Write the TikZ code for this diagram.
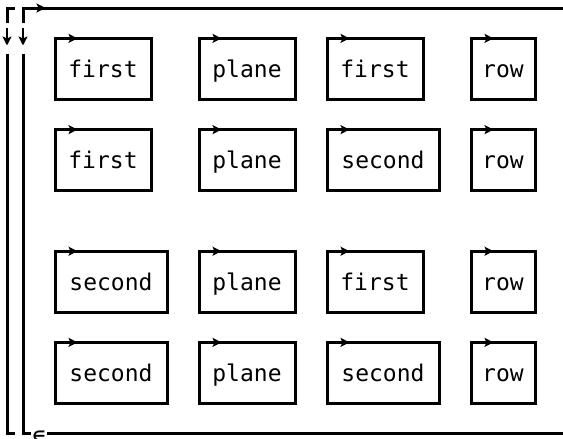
\documentclass[tikz,border=0pt]{standalone}
\usepackage{fontspec}
\newfontfamily\aplfont{DejaVu Sans Mono}
\usetikzlibrary{arrows.meta}
\newlength\cw \setlength\cw{16pt}
\def\gridtext#1{\gridloop#1\relax}
\def\gridloop#1{\ifx#1\relax\else\makebox[\cw][c]{#1}\expandafter\gridloop\fi}
\tikzset{
  frame/.style={line width=3pt, line cap=butt},
  word/.style={draw, line width=3pt, rectangle, inner sep=0pt, outer sep=0pt,
    minimum height=60.8pt, text height=17.2pt, text depth=0pt,
    font=\aplfont\fontsize{23pt}{23pt}\selectfont},
  tip/.style={-{Stealth[length=9pt,width=9pt,inset=2pt]}, line width=2.6pt}
}
\begin{document}
\begin{tikzpicture}[x=1pt,y=1pt]
\useasboundingbox (0,0) rectangle (563,-439);
% outer frame
\draw[frame] (7,-23.2) -- (7,-8) -- (15,-8);
\draw[frame] (23,-23.2) -- (23,-8) -- (563,-8);
\draw[tip] (23,-8) -- (45.5,-8);
\draw[tip] (7,-28) -- (7,-45.5);
\draw[tip] (23,-28) -- (23,-45.5);
\draw[frame] (7,-53.6) -- (7,-433.6) -- (15,-433.6);
\draw[frame] (23,-53.6) -- (23,-433.6) -- (31,-433.6);
\draw[frame] (47,-433.6) -- (563,-433.6);
\node[font=\aplfont\fontsize{23pt}{23pt}\selectfont, anchor=base, inner sep=0pt] (eps) at (39,-443) {∊};
% boxes
\foreach \nm/\w/\cx/\cy/\txt in {
  a1/96/103/68.8/first, a2/96/247/68.8/plane, a3/96/375/68.8/first, a4/64/503/68.8/row,
  b1/96/103/160/first, b2/96/247/160/plane, b3/112/383/160/second, b4/64/503/160/row,
  c1/112/111/281.6/second, c2/96/247/281.6/plane, c3/96/375/281.6/first, c4/64/503/281.6/row,
  d1/112/111/372.8/second, d2/96/247/372.8/plane, d3/112/383/372.8/second, d4/64/503/372.8/row}{
  \node[word, minimum width=\w pt] (\nm) at (\cx,-\cy) {\gridtext{\txt}};
  \draw[tip] (\nm.north west) -- ++(22.5,0);
}
\end{tikzpicture}
\end{document}
